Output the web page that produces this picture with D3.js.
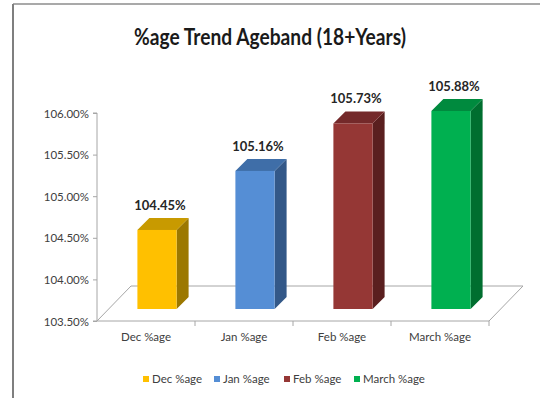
<!DOCTYPE html>
<html lang="en">
<head>
<meta charset="UTF-8">
<title>%age Trend Ageband</title>
<script src="https://cdn.jsdelivr.net/npm/d3@7"></script>
<style>
    body { margin: 0; background: #fff; }
    svg text { font-family: Lato, "Noto Sans", sans-serif; }
    .tick-label { fill: #404040; font-size: 11.5px; }
    .value-label { fill: #262626; font-size: 13px; font-weight: bold; }
    .floor { fill: none; stroke: #a6a6a6; stroke-width: 1; }
</style>
</head>
<body>
<svg id="chart" width="556" height="400"></svg>
<script>
// chart data
const categories = ["Dec %age", "Jan %age", "Feb %age", "March %age"];
const values = [104.45, 105.16, 105.73, 105.88];
const yTicks = [103.5, 104.0, 104.5, 105.0, 105.5, 106.0];
const frontColors = ["#ffc000", "#558ed5", "#953735", "#00b050"];
const topColors = ["#c89a00", "#3f6ea8", "#74292a", "#008a3e"];
const sideColors = ["#9c7800", "#335888", "#5a1f1f", "#006e2f"];

const svg = d3.select("#chart");

// frame (only top and left edges show in the picture)
svg.append("line").attr("x1", 13).attr("y1", 4).attr("x2", 540).attr("y2", 4)
    .attr("stroke", "#8c8c8c").attr("stroke-width", 1.5);
svg.append("line").attr("x1", 13).attr("y1", 4).attr("x2", 13).attr("y2", 398)
    .attr("stroke", "#7f7f7f").attr("stroke-width", 2);

svg.append("text")
    .attr("x", 270).attr("y", 45)
    .attr("text-anchor", "middle")
    .attr("textLength", 272).attr("lengthAdjust", "spacingAndGlyphs")
    .style("font-size", "23px").style("font-weight", "bold").style("fill", "#1a1a1a")
    .text("%age Trend Ageband (18+Years)");

const x0 = 97, x1 = 489;
const y = d3.scaleLinear().domain([103.5, 106]).range([321, 113]);
const x = d3.scaleBand().domain(categories).range([x0, x1]).paddingInner(0).paddingOuter(0);

// depth of floor, and where the bars sit inside that depth
const depth = { dx: 34, dy: -35 };
const barOff = { dx: 11, dy: -12 };
const barDepth = { dx: 12, dy: -12 };
const barW = x.bandwidth() * 0.4;

// floor
const yb = y(103.5);
svg.append("path").attr("class", "floor")
    .attr("d", `M${x0},${yb}L${x1},${yb}L${x1 + depth.dx},${yb + depth.dy}L${x0 + depth.dx},${yb + depth.dy}Z`);

// y axis
const yAxis = d3.axisLeft(y).tickValues(yTicks).tickSize(4)
    .tickFormat(d => d.toFixed(2) + "%");
const gy = svg.append("g").attr("transform", `translate(${x0},0)`).call(yAxis);
gy.select(".domain").attr("stroke", "#a6a6a6").attr("d", `M-4,${y(106)}H0V${yb}H-4`);
gy.selectAll(".tick line").attr("stroke", "#a6a6a6");
gy.selectAll(".tick text").attr("class", "tick-label").attr("x", -8).attr("dy", "0.35em");

// x axis
const xAxis = d3.axisBottom(x).tickSize(0).tickPadding(16);
const gx = svg.append("g").attr("transform", `translate(0,${yb})`).call(xAxis);
gx.select(".domain").remove();
gx.selectAll(".tick text").attr("class", "tick-label").attr("dy", "0.35em");
gx.selectAll(".sep").data(categories.slice(1).concat(["end"])).join("line")
    .attr("x1", (d, i) => x0 + (i + 1) * x.bandwidth())
    .attr("x2", (d, i) => x0 + (i + 1) * x.bandwidth())
    .attr("y1", 0).attr("y2", 5)
    .attr("stroke", "#a6a6a6");

// bars
const bars = svg.append("g").selectAll("g").data(values).join("g");
bars.each(function (v, i) {
    const g = d3.select(this);
    const left = x(categories[i]) + (x.bandwidth() - barW) / 2 + barOff.dx;
    const right = left + barW;
    const top = y(v) + barOff.dy;
    const bottom = yb + barOff.dy;
    const dx = barDepth.dx, dy = barDepth.dy;
    g.append("path").attr("fill", sideColors[i])
        .attr("d", `M${right},${top}L${right + dx},${top + dy}L${right + dx},${bottom + dy}L${right},${bottom}Z`);
    g.append("path").attr("fill", topColors[i])
        .attr("d", `M${left},${top}L${left + dx},${top + dy}L${right + dx},${top + dy}L${right},${top}Z`);
    g.append("rect").attr("fill", frontColors[i])
        .attr("x", left).attr("y", top).attr("width", barW).attr("height", bottom - top);
    g.append("text").attr("class", "value-label")
        .attr("x", (left + right) / 2 + 3).attr("y", top - 20)
        .attr("text-anchor", "middle")
        .text(v.toFixed(2) + "%");
});

// legend
const legendX = [146, 217, 287, 357];
const legend = svg.append("g").selectAll("g").data(categories).join("g")
    .attr("transform", (d, i) => `translate(${legendX[i]},379)`);
legend.append("rect").attr("x", -3).attr("y", -3).attr("width", 6).attr("height", 6)
    .attr("fill", (d, i) => frontColors[i]);
legend.append("text").attr("class", "tick-label").attr("x", 6).attr("dy", "0.35em").text(d => d);
</script>
</body>
</html>
